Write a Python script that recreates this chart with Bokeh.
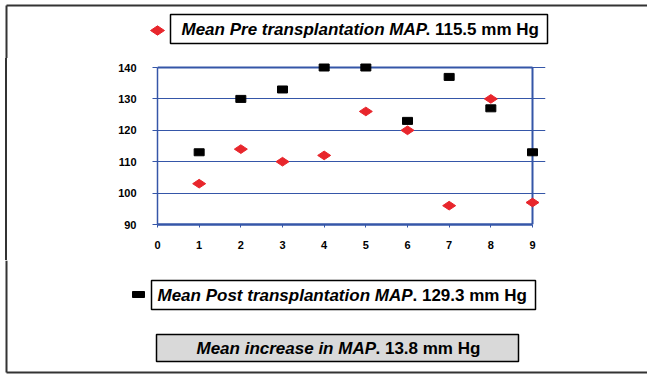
import math
from bokeh.plotting import figure
from bokeh.layouts import column, row
from bokeh.models import FixedTicker, Range1d
from bokeh.core.properties import value
from bokeh.embed import file_html
from bokeh.resources import INLINE

# ---- data ----
patients = [1, 2, 3, 4, 5, 6, 7, 8, 9]
pre_map = [103, 114, 110, 112, 126, 120, 96, 130, 97]
post_map = [113, 130, 133, 140, 140, 123, 137, 127, 113]
x_ticks = [0, 1, 2, 3, 4, 5, 6, 7, 8, 9]
y_ticks = [90, 100, 110, 120, 130, 140]
pre_label = ["Mean Pre transplantation MAP", ". 115.5 mm Hg"]
post_label = ["Mean Post transplantation MAP", ". 129.3 mm Hg"]
inc_label = ["Mean increase in MAP", ". 13.8 mm Hg"]

# ---- layout (canvas pixels) ----
W, H = 647, 374
TOP_H = 58
MID_H = 202
BOT_H = H - TOP_H - MID_H
FRAME_L, FRAME_R = 157, 545
X0_PX, X9_PX = 157, 532
Y140_PX, Y90_PX = 67, 224
BLUE = "#3556a8"
RED = "#e8262c"
FONT = "Liberation Sans"
BORDER = "#333333"


def strip(w, h):
    f = figure(width=w, height=h, output_backend="svg", toolbar_location=None,
               x_range=Range1d(0, w), y_range=Range1d(h, 0),
               x_axis_type=None, y_axis_type=None, min_border=0)
    f.outline_line_color = None
    f.background_fill_color = "white"
    f.border_fill_color = "white"
    return f


def texts(f, xs, y, parts, styles):
    for x, s, st in zip(xs, parts, styles):
        f.text(x=[x], y=[y], text=[s], text_font=value(FONT),
               text_font_style=value(st), text_font_size=value("17px"),
               text_baseline=value("middle"), text_align=value("left"),
               text_color="black")


def boxq(f, l, t, r, b, fill=None):
    f.quad(left=[l], right=[r], top=[t], bottom=[b], fill_color=fill,
           fill_alpha=1 if fill else 0, line_color="black", line_width=1.5)


# ---- top strip ----
top = strip(W, TOP_H)
top.segment(x0=[6, 6], y0=[5, 5], x1=[W, 6], y1=[5, TOP_H], line_color=BORDER, line_width=2)
boxq(top, 170, 14, 547, 43)
texts(top, [181, 425], 29, pre_label, ["bold italic", "bold"])
top.scatter(x=[157], y=[30], marker="diamond", size=14, angle=math.pi / 2,
            fill_color=RED, line_color=RED)

# ---- chart ----
px_per_x = (X9_PX - X0_PX) / 9.0
px_per_y = (Y90_PX - Y140_PX) / 50.0
x_end = (FRAME_R - X0_PX) / px_per_x
y_end = 90 + (Y90_PX - TOP_H) / px_per_y
p = figure(width=W, height=MID_H, output_backend="svg", toolbar_location=None,
           x_range=Range1d(0, x_end), y_range=Range1d(90, y_end),
           min_border_left=FRAME_L, min_border_right=W - FRAME_R,
           min_border_top=0, min_border_bottom=TOP_H + MID_H - Y90_PX)
p.background_fill_color = "white"
p.border_fill_color = None
p.outline_line_color = None
# outer page border (left edge) shown behind the transparent plot border
p.styles = {"background": "linear-gradient(to right, #ffffff 0px, #ffffff 5px, "
                          "#333333 5px, #333333 7px, #ffffff 7px, #ffffff 100%)"}

p.xgrid.grid_line_color = None
p.ygrid.grid_line_color = BLUE
p.ygrid.grid_line_width = 1
p.ygrid.ticker = FixedTicker(ticks=y_ticks)
p.ygrid.bounds = (0, 9)

p.xaxis.ticker = FixedTicker(ticks=x_ticks)
p.yaxis.ticker = FixedTicker(ticks=y_ticks)
p.xaxis.bounds = (x_ticks[0], x_ticks[-1])
p.yaxis.bounds = (y_ticks[0], y_ticks[-1])
for ax in (p.xaxis, p.yaxis):
    ax.major_label_text_font = FONT
    ax.major_label_text_font_style = "bold"
    ax.major_label_text_font_size = "11px"
    ax.major_label_text_color = "black"
    ax.axis_line_color = BLUE
    ax.major_tick_line_color = BLUE
    ax.minor_tick_line_color = None
    ax.major_tick_in = 0
p.xaxis.axis_line_width = 2.5
p.yaxis.axis_line_width = 1.5
p.xaxis.major_tick_out = 3
p.yaxis.major_tick_out = 5
p.xaxis.major_label_standoff = 13
p.yaxis.major_label_standoff = 16

# chart frame lines: top (at 140) and right (at 9)
p.segment(x0=[x_ticks[0], x_ticks[-1]], y0=[y_ticks[-1], y_ticks[0]],
          x1=[x_ticks[-1], x_ticks[-1]], y1=[y_ticks[-1], y_ticks[-1]],
          line_color=BLUE, line_width=2)

# data marks
p.scatter(patients, pre_map, marker="diamond", size=13, angle=math.pi / 2,
          fill_color=RED, line_color=RED)
p.rect(patients, post_map, width=10, height=7, width_units="screen",
       height_units="screen", fill_color="black", line_color="black")

# ---- bottom strip ----
bot = strip(W, BOT_H)
oy = TOP_H + MID_H
bot.segment(x0=[6, 6], y0=[0, 372 - oy], x1=[6, W], y1=[372 - oy, 372 - oy],
            line_color=BORDER, line_width=2)
boxq(bot, 151, 280 - oy, 535, 309 - oy)
texts(bot, [157, 412], 295 - oy, post_label, ["bold italic", "bold"])
bot.rect(x=[138], y=[294 - oy], width=12, height=6, width_units="screen",
         height_units="screen", fill_color="black", line_color="black")
boxq(bot, 156, 334 - oy, 518, 361 - oy, fill="#d9d9d9")
texts(bot, [196, 375], 348 - oy, inc_label, ["bold italic", "bold"])

layout = column(top, row(p, spacing=0), bot, spacing=0)
open("out.html", "w").write(file_html(layout, INLINE))
